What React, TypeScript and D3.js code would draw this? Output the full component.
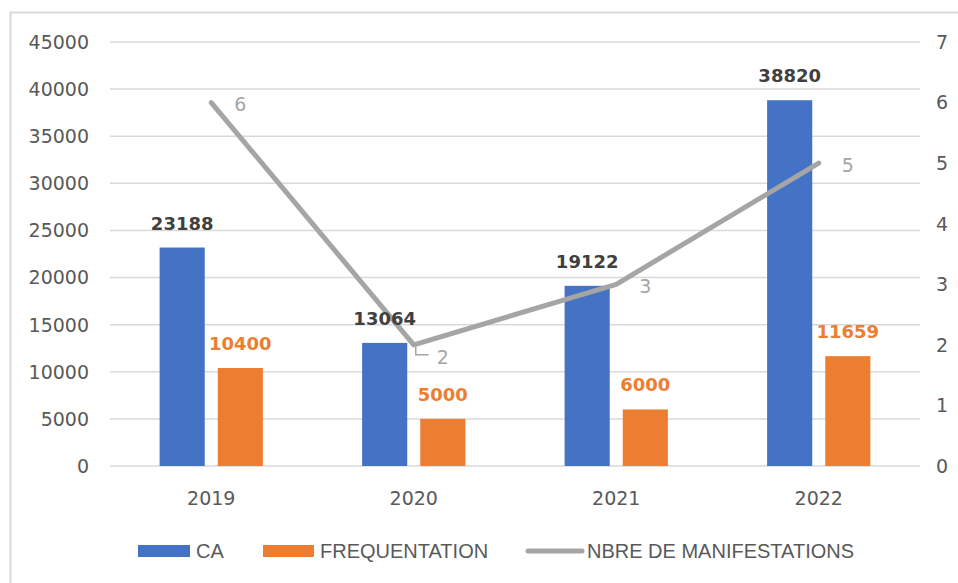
import React from 'react';
import * as d3 from 'd3';

const years = ['2019', '2020', '2021', '2022'];
const caValues = [23188, 13064, 19122, 38820];
const freqValues = [10400, 5000, 6000, 11659];
const manifValues = [6, 2, 3, 5];
const leftTicks = [0, 5000, 10000, 15000, 20000, 25000, 30000, 35000, 40000, 45000];
const rightTicks = [0, 1, 2, 3, 4, 5, 6, 7];

const BLUE = '#4472c4';
const ORANGE = '#ed7d31';
const GRAY = '#a5a5a5';
const TEXT = '#595959';
const GRID = '#d9d9d9';
const NUM_FONT = '"DejaVu Sans", sans-serif';
const LEG_FONT = '"Liberation Sans", Arial, sans-serif';

const App = () => {
  const width = 958;
  const height = 583;
  const left = 110;
  const right = 920;
  const top = 42;
  const bottom = 466;

  const x0 = d3.scaleBand().domain(years).range([left, right]).paddingInner(0.49).paddingOuter(0.245);
  const x1 = d3.scaleBand().domain(['ca', 'freq']).range([0, x0.bandwidth()]).paddingInner(0.224);
  const y = d3.scaleLinear().domain([0, 45000]).range([bottom, top]);
  const y2 = d3.scaleLinear().domain([0, 7]).range([bottom, top]);

  const cx = (d: string) => (x0(d) || 0) + x0.bandwidth() / 2;
  const bw = x1.bandwidth();
  const linePath = d3.line<number>()
    .x((d, i) => cx(years[i]))
    .y(d => y2(d))(manifValues) || '';

  return (
    <svg width={width} height={height} style={{ position: 'absolute', left: 0, top: 0, background: '#fff' }}>
      {/* frame */}
      <path d={`M10.5,${height} V12.5 H${width}`} fill="none" stroke={GRID} strokeWidth={2} />

      {/* grid + axes */}
      {leftTicks.map(t => (
        <g key={t}>
          <line x1={left} x2={right} y1={y(t)} y2={y(t)} stroke={GRID} strokeWidth={1.5} />
          <text x={89} y={y(t)} dy="0.36em" textAnchor="end" fontFamily={NUM_FONT} fontSize={19} fill={TEXT}>{t}</text>
        </g>
      ))}
      {rightTicks.map(t => (
        <text key={t} x={936} y={y2(t)} dy="0.36em" fontFamily={NUM_FONT} fontSize={19} fill={TEXT}>{t}</text>
      ))}
      {years.map(yr => (
        <text key={yr} x={cx(yr)} y={505} textAnchor="middle" fontFamily={NUM_FONT} fontSize={19} fill={TEXT}>{yr}</text>
      ))}

      {/* bars */}
      {years.map((yr, i) => (
        <g key={yr}>
          <rect x={(x0(yr) || 0) + (x1('ca') || 0)} y={y(caValues[i])} width={bw} height={bottom - y(caValues[i])} fill={BLUE} />
          <rect x={(x0(yr) || 0) + (x1('freq') || 0)} y={y(freqValues[i])} width={bw} height={bottom - y(freqValues[i])} fill={ORANGE} />
        </g>
      ))}

      {/* line */}
      <path d={linePath} fill="none" stroke={GRAY} strokeWidth={5} strokeLinejoin="round" strokeLinecap="round" />
      {manifValues.map((v, i) => {
        const px = cx(years[i]);
        const py = y2(v);
        if (i === 1) {
          return (
            <g key={i}>
              <path d={`M${px + 2},${py + 2} V${py + 10} H${px + 15}`} fill="none" stroke={GRAY} strokeWidth={1.5} />
              <text x={px + 23} y={py + 12} dy="0.36em" fontFamily={NUM_FONT} fontSize={19} fill={GRAY}>{v}</text>
            </g>
          );
        }
        return (
          <text key={i} x={px + 23} y={py + 2} dy="0.36em" fontFamily={NUM_FONT} fontSize={19} fill={GRAY}>{v}</text>
        );
      })}

      {/* bar value labels */}
      {years.map((yr, i) => {
        const bx = (x0(yr) || 0) + (x1('ca') || 0);
        const ox = (x0(yr) || 0) + (x1('freq') || 0);
        return (
          <g key={yr}>
            <text x={bx + bw / 2} y={y(caValues[i]) - 18} textAnchor="middle" fontFamily={NUM_FONT} fontWeight="bold" fontSize={18} fill="#404040">{caValues[i]}</text>
            <text x={ox + bw / 2} y={y(freqValues[i]) - 18} textAnchor="middle" fontFamily={NUM_FONT} fontWeight="bold" fontSize={18} fill={ORANGE}>{freqValues[i]}</text>
          </g>
        );
      })}

      {/* legend */}
      <rect x={138} y={545} width={52} height={12} fill={BLUE} />
      <text x={196} y={551} dy="0.36em" fontFamily={LEG_FONT} fontSize={20} fill={TEXT}>CA</text>
      <rect x={263} y={545} width={51} height={12} fill={ORANGE} />
      <text x={320} y={551} dy="0.36em" fontFamily={LEG_FONT} fontSize={20} fill={TEXT}>FREQUENTATION</text>
      <line x1={528} x2={582} y1={551} y2={551} stroke={GRAY} strokeWidth={5} strokeLinecap="round" />
      <text x={587} y={551} dy="0.36em" fontFamily={LEG_FONT} fontSize={20} fill={TEXT}>NBRE DE MANIFESTATIONS</text>
    </svg>
  );
};

export default App;
